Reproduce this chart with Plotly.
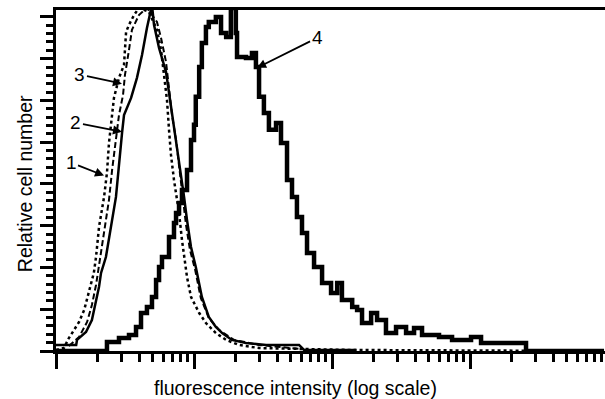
import plotly.graph_objects as go

# Curve 1 (dotted)
x1 = [1.00, 1.14, 1.24, 1.35, 1.47, 1.60, 1.73, 1.88, 1.95, 2.05, 2.23, 2.34, 2.42, 2.55, 2.63,
      2.86, 3.11, 3.22, 3.38, 3.68, 3.99, 4.72, 5.39, 5.77, 6.06, 6.37, 6.59, 6.81, 7.16, 7.79,
      8.18, 8.47, 8.90, 9.51, 10.9, 12.2, 14.4, 17.1, 21.2, 29.6, 57.7, 133, 9000]
y1 = [0.5, 1.4, 6.2, 10.1, 13.9, 19.6, 27.8, 37.4, 45.0, 59.4, 73.8, 85.3, 99.6, 113.0, 121.2,
      130.8, 137.0, 152.8, 156.2, 160.9, 164.3, 162.4, 153.8, 144.2, 132.2, 120.2, 105.9, 93.9, 81.9, 66.1,
      53.2, 46.0, 35.4, 25.9, 18.2, 13.4, 8.6, 5.3, 2.9, 1.4, 1.0, 0.5, 0]

# Curve 2 (thin solid)
x2 = [1.00, 1.40, 1.42, 1.65, 1.82, 1.95, 2.05, 2.12, 2.23, 2.30, 2.72, 2.86, 3.01, 3.11, 3.50,
      3.86, 4.20, 4.56, 4.96, 5.13, 5.58, 6.27, 6.59, 6.93, 7.41, 8.05, 8.47, 8.90, 9.51, 10.3,
      11.4, 12.8, 14.4, 16.0, 18.8, 23.8, 33.3, 57.7, 62.7, 150]
y2 = [2.9, 2.9, 5.3, 9.1, 14.8, 23.5, 30.7, 37.4, 42.2, 45.0, 73.8, 90.1, 104.4, 113.0, 121.2,
      130.8, 141.8, 154.7, 165.7, 156.2, 145.1, 133.6, 124.1, 113.0, 101.1, 85.3, 73.8, 62.7, 49.8, 40.2,
      25.9, 16.3, 11.5, 8.6, 5.3, 3.8, 2.9, 2.9, 0.5, 0.5]

# Curve 3 (dashed)
x3 = [1.24, 1.47, 1.68, 1.82, 1.95, 2.05, 2.23, 2.42, 2.55, 2.72, 2.86, 3.06, 3.16, 3.38, 3.55,
      3.99, 4.56, 5.39, 5.77, 6.27, 6.59, 6.93, 7.41, 7.92, 8.32, 8.75, 9.35, 10.2, 11.2, 12.8,
      15.2, 19.5, 29.6, 57.7]
y3 = [2.4, 6.7, 13.9, 22.0, 31.6, 41.2, 58.0, 72.3, 86.7, 101.1, 113.0, 122.6, 132.2, 144.2, 153.8,
      160.9, 164.3, 157.6, 149.9, 138.4, 125.0, 113.0, 101.1, 84.3, 72.3, 60.4, 48.4, 38.8, 25.4, 15.8,
      10.1, 5.3, 2.9, 1.0]

# Curve 4 (thick solid)
x4 = [1.00, 2.23, 2.34, 2.86, 3.38, 3.80, 4.13, 4.56, 4.96, 5.31, 5.58, 5.86, 6.59, 7.16, 7.41,
      7.79, 8.18, 8.90, 9.51, 10.0, 10.3, 10.9, 11.4, 12.2, 12.8, 14.4, 15.7, 17.1, 18.5, 20.1,
      20.5, 23.8, 26.3, 28.1, 29.6, 32.1, 34.9, 39.3, 42.7, 47.2, 51.3, 55.7, 60.6, 65.9, 74.1,
      84.7, 98.4, 109, 118, 140, 152, 165, 192, 212, 246, 291, 344, 393, 449, 596,
      741, 936, 1017, 1202, 1622, 2265, 2545, 9354]
y4 = [0, 0, 4.3, 6.2, 7.7, 11.5, 18.2, 21.1, 25.9, 34.0, 40.2, 45.0, 54.6, 61.3, 66.1,
      70.9, 77.1, 86.7, 101.1, 108.3, 121.7, 136.0, 147.5, 155.2, 157.6, 160.0, 152.3, 150.4, 164.3, 152.3,
      140.8, 140.3, 142.7, 136.0, 121.7, 114.0, 105.9, 109.2, 99.6, 81.9, 73.8, 64.2, 56.5, 46.9, 40.2,
      32.6, 27.8, 32.6, 24.4, 21.1, 19.6, 13.4, 18.2, 14.8, 8.6, 11.5, 8.6, 11.0, 7.7, 6.7,
      5.3, 5.3, 6.7, 3.8, 3.8, 3.8, 0, 0]

labels = ["1", "2", "3", "4"]

fig = go.Figure()
fig.add_trace(go.Scatter(x=x1, y=y1, mode="lines", line=dict(color="black", width=2.5, dash="dot")))
fig.add_trace(go.Scatter(x=x3, y=y3, mode="lines", line=dict(color="black", width=2, dash="6px,3px")))
fig.add_trace(go.Scatter(x=x2, y=y2, mode="lines", line=dict(color="black", width=2.5)))
fig.add_trace(go.Scatter(x=x4, y=y4, mode="lines", line=dict(color="black", width=4.5, shape="hv")))

family = "Liberation Sans, Arial, sans-serif"
num_font = dict(family=family, size=19, color="black")
title_font = dict(family=family, size=19.5, color="black")

# arrow annotations: tip in data coords (log10 for x), text offset in px
arrows = [
    (0.348, 84.0, -33, -13),
    (0.478, 105.0, -46, -9),
    (0.478, 128.0, -42, -9),
    (1.457, 135.6, 60, -30),
]
for lab, (ax_, ay_, dx, dy) in zip(labels, arrows):
    fig.add_annotation(x=ax_, y=ay_, xref="x", yref="y", text=lab, showarrow=True,
                       ax=dx, ay=dy, arrowhead=2, arrowsize=1, arrowwidth=1.8,
                       arrowcolor="black", font=num_font)

fig.add_annotation(text="fluorescence intensity (log scale)", xref="paper", yref="paper",
                   x=0.437, y=-0.108, showarrow=False, xanchor="center", yanchor="middle", font=title_font)
fig.add_annotation(text="Relative cell number", xref="paper", yref="paper",
                   x=-0.056, y=0.49, showarrow=False, xanchor="center", yanchor="middle",
                   textangle=-90, font=title_font)

fig.update_layout(
    width=605, height=399,
    margin=dict(l=56, r=0, t=10, b=48),
    paper_bgcolor="white", plot_bgcolor="white",
    showlegend=False,
    font=num_font,
)
fig.update_xaxes(type="log", range=[0, 3.978], showgrid=False, zeroline=False,
                 showline=True, linecolor="black", linewidth=3, mirror=True,
                 ticks="outside", ticklen=15, tickwidth=2.5, tickcolor="black",
                 dtick=1, showticklabels=False,
                 minor=dict(ticks="outside", ticklen=8, tickwidth=2.5, tickcolor="black", dtick="D1"))
fig.update_yaxes(range=[0, 163.3], showgrid=False, zeroline=False,
                 showline=True, linecolor="black", linewidth=3,
                 ticks="outside", ticklen=13, tickwidth=3, tickcolor="black",
                 dtick=20, showticklabels=False,
                 minor=dict(ticks="outside", ticklen=7, tickwidth=3, tickcolor="black", dtick=4))

fig.write_html("out.html")
